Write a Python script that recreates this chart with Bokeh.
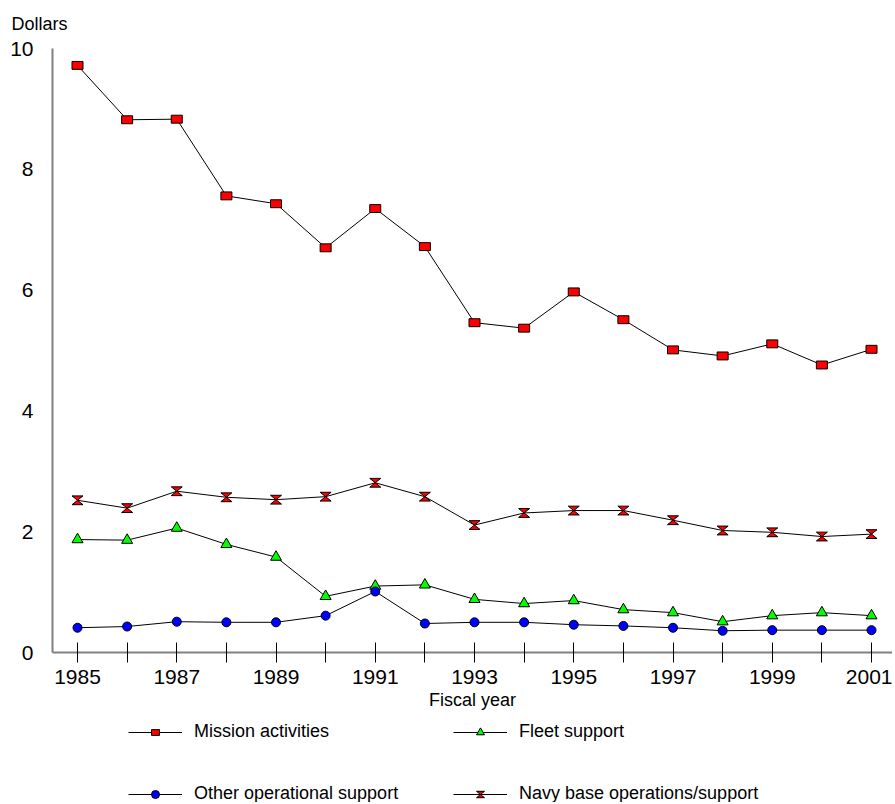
from bokeh.plotting import figure
from bokeh.layouts import column
from bokeh.models import (FixedTicker, Range1d, Legend, LegendItem, Title, CustomJS,
                          ColumnDataSource)
from bokeh.embed import file_html
from bokeh.resources import INLINE

# ---------------- data ----------------
years = list(range(1985, 2002))
label_years = [1985, 1987, 1989, 1991, 1993, 1995, 1997, 1999, 2001]
minor_years = [1986, 1988, 1990, 1992, 1994, 1996, 1998, 2000]
y_ticks = [0, 2, 4, 6, 8, 10]

mission_activities = [9.72, 8.82, 8.83, 7.56, 7.43, 6.70, 7.35, 6.72, 5.46, 5.37,
                      5.97, 5.51, 5.01, 4.91, 5.11, 4.76, 5.02]
navy_base_ops = [2.52, 2.39, 2.67, 2.57, 2.53, 2.58, 2.81, 2.58, 2.11, 2.31,
                 2.35, 2.35, 2.19, 2.02, 1.99, 1.92, 1.96]
fleet_support = [1.87, 1.86, 2.06, 1.79, 1.58, 0.93, 1.10, 1.12, 0.88, 0.81,
                 0.86, 0.71, 0.66, 0.51, 0.61, 0.66, 0.61]
other_operational = [0.41, 0.43, 0.51, 0.50, 0.50, 0.61, 1.01, 0.48, 0.50, 0.50,
                     0.46, 0.44, 0.41, 0.36, 0.37, 0.37, 0.37]

series_names = ["Mission activities", "Fleet support",
                "Other operational support", "Navy base operations/support"]

FONT = "Liberation Sans"

p = figure(frame_width=840, frame_height=604, output_backend="svg", toolbar_location=None,
           x_range=Range1d(1984.496, 2001.423), y_range=Range1d(0, 10),
           min_border_left=52, min_border_right=0, min_border_top=48, min_border_bottom=64,
           outline_line_color=None, background_fill_color="white",
           border_fill_color="white")
p.grid.visible = False

# ---------------- axes ----------------
xa = p.xaxis[0]
xa.ticker = FixedTicker(ticks=label_years, minor_ticks=minor_years)
xa.axis_line_color = "#808080"
xa.axis_line_width = 2
xa.major_tick_in = 10
xa.major_tick_out = 10
xa.minor_tick_in = 10
xa.minor_tick_out = 10
xa.major_tick_line_color = "black"
xa.minor_tick_line_color = "black"
xa.major_label_text_font = FONT
xa.major_label_text_font_size = "21px"
xa.major_label_text_color = "black"
xa.major_label_standoff = 7
xa.axis_label = "Fiscal year"
xa.axis_label_text_font = FONT
xa.axis_label_text_font_size = "18px"
xa.axis_label_text_font_style = "normal"
xa.axis_label_text_color = "black"
xa.axis_label_standoff = 3

ya = p.yaxis[0]
ya.ticker = FixedTicker(ticks=y_ticks, minor_ticks=[])
ya.axis_line_color = "#808080"
ya.axis_line_width = 2
ya.major_tick_in = 0
ya.major_tick_out = 0
ya.minor_tick_in = 0
ya.minor_tick_out = 0
ya.major_label_text_font = FONT
ya.major_label_text_font_size = "21px"
ya.major_label_text_color = "black"
ya.major_label_standoff = 19

p.add_layout(Title(text="Dollars", align="left", vertical_align="top", offset=-41,
                   standoff=26, text_font=FONT, text_font_size="18px",
                   text_font_style="normal", text_color="black"), "above")

# ---------------- custom markers ----------------
rect_js = CustomJS(code="""
export default (args, obj, {ctx, i, r, visuals}) => {
  const w = r, h = r*0.72
  ctx.rect(-w, -h, 2*w, 2*h)
  visuals.fill.apply(ctx, i)
  visuals.hatch.apply(ctx, i)
  visuals.line.apply(ctx, i)
}
""")
hourglass_js = CustomJS(code="""
export default (args, obj, {ctx, i, r, visuals}) => {
  const w = r, h = r*0.8
  ctx.moveTo(-w, -h)
  ctx.lineTo(w, -h)
  ctx.lineTo(0, 0)
  ctx.lineTo(w, h)
  ctx.lineTo(-w, h)
  ctx.lineTo(0, 0)
  ctx.closePath()
  visuals.fill.apply(ctx, i)
  visuals.hatch.apply(ctx, i)
  visuals.line.apply(ctx, i)
}
""")

# marker style per series: (marker, fill colour, size, defs)
styles = [
    ("@rect", "#ff0000", 11, {"@rect": rect_js}),
    ("triangle", "#00ff00", 11, None),
    ("circle", "#0000ff", 9, None),
    ("@hourglass", "#ff0000", 11, {"@hourglass": hourglass_js}),
]
values = [mission_activities, fleet_support, other_operational, navy_base_ops]


def add_markers(fig, src, style):
    marker, color, size, defs = style
    kw = dict(x="x", y="y", source=src, size=size, fill_color=color,
              line_color="black", line_width=1)
    if defs is not None:
        try:
            return fig.scatter(marker=marker, defs=defs, **kw)
        except Exception:
            return fig.scatter(marker="square" if "rect" in marker else "inverted_triangle", **kw)
    return fig.scatter(marker=marker, **kw)


sources = []
for vals, style in zip(values, styles):
    s = ColumnDataSource(dict(x=years, y=vals))
    sources.append(s)
    p.line("x", "y", source=s, line_color="black", line_width=1)
    add_markers(p, s, style)

# ---------------- legend (separate strip below) ----------------
lg = figure(frame_width=840, frame_height=86, output_backend="svg", toolbar_location=None,
            x_range=Range1d(0, 1), y_range=Range1d(0, 1),
            x_axis_type=None, y_axis_type=None,
            min_border_left=52, min_border_right=0, min_border_top=0, min_border_bottom=0,
            outline_line_color=None, background_fill_color="white",
            border_fill_color="white")
lg.grid.visible = False

items = []
for name, style, s in zip(series_names, styles, sources):
    # same series data; it lies outside this strip's ranges, only the legend swatch shows
    ln = lg.line("x", "y", source=s, line_color="black", line_width=1)
    mk = add_markers(lg, s, style)
    items.append(LegendItem(label=name, renderers=[ln, mk]))

legend = Legend(items=items, orientation="horizontal", ncols=2, location=(76, -2),
                glyph_width=54, glyph_height=20, label_height=20, label_width=218,
                label_standoff=12, spacing=41, padding=0, margin=0,
                label_text_font=FONT, label_text_font_size="18px", label_text_color="black",
                border_line_color=None, background_fill_alpha=0)
lg.add_layout(legend, "center")

layout = column(p, lg, spacing=0)
open("out.html", "w").write(file_html(layout, INLINE))
